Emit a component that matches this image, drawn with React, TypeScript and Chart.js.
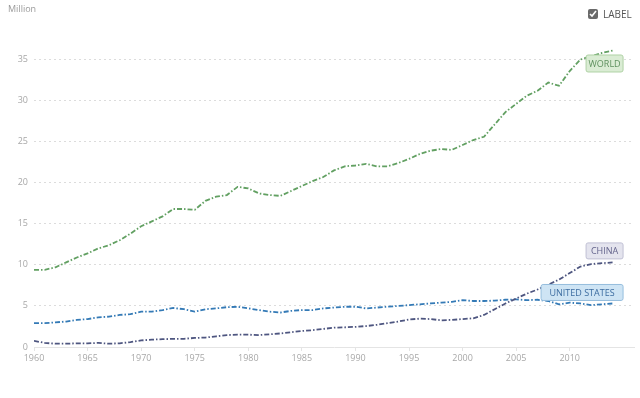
import React, { useEffect, useRef } from "react";
import { Chart, registerables } from "chart.js";

Chart.register(...registerables);

const years = [
  1960, 1961, 1962, 1963, 1964, 1965, 1966, 1967, 1968, 1969,
  1970, 1971, 1972, 1973, 1974, 1975, 1976, 1977, 1978, 1979,
  1980, 1981, 1982, 1983, 1984, 1985, 1986, 1987, 1988, 1989,
  1990, 1991, 1992, 1993, 1994, 1995, 1996, 1997, 1998, 1999,
  2000, 2001, 2002, 2003, 2004, 2005, 2006, 2007, 2008, 2009,
  2010, 2011, 2012, 2013, 2014,
];

const world = [
  9.4, 9.4, 9.7, 10.3, 10.9, 11.4, 12.0, 12.4, 13.0, 13.8,
  14.7, 15.3, 15.9, 16.8, 16.8, 16.7, 17.8, 18.3, 18.5, 19.5,
  19.3, 18.7, 18.5, 18.4, 19.0, 19.6, 20.2, 20.7, 21.5, 22.0,
  22.1, 22.3, 22.0, 22.0, 22.4, 22.9, 23.5, 23.9, 24.1, 24.0,
  24.6, 25.2, 25.6, 27.1, 28.6, 29.6, 30.6, 31.2, 32.2, 31.8,
  33.6, 35.0, 35.4, 35.8, 36.1,
];

const unitedStates = [
  2.9, 2.9, 3.0, 3.1, 3.3, 3.4, 3.6, 3.7, 3.9, 4.0,
  4.3, 4.3, 4.5, 4.75, 4.6, 4.3, 4.6, 4.7, 4.85, 4.9,
  4.7, 4.5, 4.3, 4.2, 4.4, 4.5, 4.5, 4.7, 4.8, 4.9,
  4.9, 4.7, 4.8, 4.9, 5.0, 5.1, 5.2, 5.3, 5.4, 5.5,
  5.7, 5.6, 5.6, 5.65, 5.75, 5.8, 5.7, 5.75, 5.6, 5.2,
  5.4, 5.3, 5.1, 5.2, 5.3,
];

const china = [
  0.75, 0.5, 0.4, 0.4, 0.45, 0.45, 0.5, 0.4, 0.45, 0.6,
  0.8, 0.9, 0.95, 1.0, 1.0, 1.1, 1.15, 1.3, 1.45, 1.5,
  1.5, 1.45, 1.55, 1.65, 1.8, 1.95, 2.05, 2.2, 2.35, 2.4,
  2.45, 2.55, 2.7, 2.9, 3.1, 3.35, 3.45, 3.4, 3.25, 3.3,
  3.4, 3.5, 3.9, 4.6, 5.3, 5.9, 6.5, 7.0, 7.6, 8.2,
  9.0, 9.8, 10.1, 10.2, 10.3,
];

const seriesNames = ["WORLD", "CHINA", "UNITED STATES"];
const yTicks = [0, 5, 10, 15, 20, 25, 30, 35];
const xTicks = [1960, 1965, 1970, 1975, 1980, 1985, 1990, 1995, 2000, 2005, 2010];

const FONT = "'Open Sans', 'DejaVu Sans', sans-serif";

const endLabelStyles: Record<
  string,
  { dy: number; w: number; h: number; fill: string; stroke: string; text: string }
> = {
  WORLD: { dy: 13, w: 37, h: 17, fill: "rgb(218,236,212)", stroke: "rgb(175,210,165)", text: "rgb(95,145,95)" },
  CHINA: { dy: -11.5, w: 37, h: 16, fill: "rgb(228,228,238)", stroke: "rgb(192,192,212)", text: "rgb(100,100,140)" },
  "UNITED STATES": { dy: -11, w: 82, h: 16, fill: "rgb(206,228,244)", stroke: "rgb(150,190,222)", text: "rgb(60,108,160)" },
};

const endLabelPlugin = {
  id: "endLabels",
  afterDatasetsDraw(chart: any) {
    const ctx = chart.ctx;
    ctx.save();
    ctx.font = `9px ${FONT}`;
    chart.data.datasets.forEach((ds: any, i: number) => {
      const meta = chart.getDatasetMeta(i);
      const pts = meta.data;
      const last = pts[pts.length - 1];
      const st = endLabelStyles[ds.label];
      if (!last || !st) return;
      const text = ds.label;
      const w = st.w;
      const h = st.h;
      const right = last.x + 10.5;
      const left = right - w;
      const cy = last.y + st.dy;
      const top = cy - h / 2;
      ctx.beginPath();
      const r = 2;
      ctx.moveTo(left + r, top);
      ctx.lineTo(left + w - r, top);
      ctx.quadraticCurveTo(left + w, top, left + w, top + r);
      ctx.lineTo(left + w, top + h - r);
      ctx.quadraticCurveTo(left + w, top + h, left + w - r, top + h);
      ctx.lineTo(left + r, top + h);
      ctx.quadraticCurveTo(left, top + h, left, top + h - r);
      ctx.lineTo(left, top + r);
      ctx.quadraticCurveTo(left, top, left + r, top);
      ctx.closePath();
      ctx.fillStyle = st.fill;
      ctx.fill();
      ctx.strokeStyle = st.stroke;
      ctx.lineWidth = 1;
      ctx.stroke();
      ctx.fillStyle = st.text;
      ctx.textAlign = "center";
      ctx.textBaseline = "middle";
      ctx.fillText(text, left + w / 2, cy + 0.5);
    });
    ctx.restore();
  },
};

export default function App() {
  const canvasRef = useRef<HTMLCanvasElement | null>(null);

  useEffect(() => {
    document.body.style.margin = "0";
    const canvas = canvasRef.current;
    if (!canvas) return;
    const toPoints = (vals: number[]) => years.map((y, i) => ({ x: y, y: vals[i] }));
    const dash = [5, 2, 1.5, 2];
    const chart = new Chart(canvas, {
      type: "line",
      data: {
        datasets: [
          {
            label: seriesNames[0],
            data: toPoints(world),
            borderColor: "rgb(98,160,98)",
            borderWidth: 1.8,
            borderDash: dash,
            pointRadius: 0,
            tension: 0,
            fill: false,
          },
          {
            label: seriesNames[1],
            data: toPoints(china),
            borderColor: "rgb(78,86,128)",
            borderWidth: 1.8,
            borderDash: dash,
            pointRadius: 0,
            tension: 0,
            fill: false,
          },
          {
            label: seriesNames[2],
            data: toPoints(unitedStates),
            borderColor: "rgb(52,122,182)",
            borderWidth: 1.8,
            borderDash: dash,
            pointRadius: 0,
            tension: 0,
            fill: false,
          },
        ],
      },
      options: {
        responsive: false,
        animation: false,
        layout: { padding: { top: 39, right: 6, left: 0, bottom: 0 } },
        plugins: {
          legend: { display: false },
          tooltip: { enabled: false },
        },
        scales: {
          x: {
            type: "linear",
            min: 1960,
            max: 2016,
            afterBuildTicks: (scale: any) => {
              scale.ticks = xTicks.map((v) => ({ value: v }));
            },
            afterFit: (scale: any) => {
              scale.height = 51;
            },
            ticks: {
              color: "#a8a8a8",
              font: { family: FONT, size: 9 },
              padding: 2,
              maxRotation: 0,
              autoSkip: false,
              callback: (v: any) => String(v),
            },
            grid: {
              drawOnChartArea: false,
              tickLength: 4,
              color: "#e4e4e4",
            },
            border: { color: "#e4e4e4" },
          },
          y: {
            type: "linear",
            min: 0,
            max: 37.5,
            afterBuildTicks: (scale: any) => {
              scale.ticks = yTicks.map((v) => ({ value: v }));
            },
            afterFit: (scale: any) => {
              scale.width = 34;
            },
            ticks: {
              color: "#a8a8a8",
              font: { family: FONT, size: 9 },
              padding: 6,
              callback: (v: any) => String(v),
            },
            grid: {
              drawTicks: false,
              color: (c: any) => (c.tick && c.tick.value === 0 ? "rgba(0,0,0,0)" : "#dcdcdc"),
              lineWidth: 1,
            },
            border: { display: false, dash: [2, 3] },
          },
        },
      },
      plugins: [endLabelPlugin],
    } as any);
    (chart.options.scales as any).y.border.dash = [2, 3];
    chart.update();
    return () => chart.destroy();
  }, []);

  return (
    <div style={{ position: "relative", width: 640, height: 398, fontFamily: FONT }}>
      <canvas ref={canvasRef} width={640} height={398} style={{ display: "block" }} />
      <span
        style={{
          position: "absolute",
          left: 8,
          top: 3,
          fontSize: 9,
          color: "#9a9a9a",
          lineHeight: "12px",
        }}
      >
        Million
      </span>
      <label
        style={{
          position: "absolute",
          left: 588,
          top: 8,
          display: "flex",
          alignItems: "center",
          fontSize: 10,
          color: "#555",
          lineHeight: "12px",
        }}
      >
        <input
          type="checkbox"
          defaultChecked
          style={{ width: 10, height: 10, margin: "0 5px 0 0", accentColor: "#6a6a6a" }}
        />
        LABEL
      </label>
    </div>
  );
}
